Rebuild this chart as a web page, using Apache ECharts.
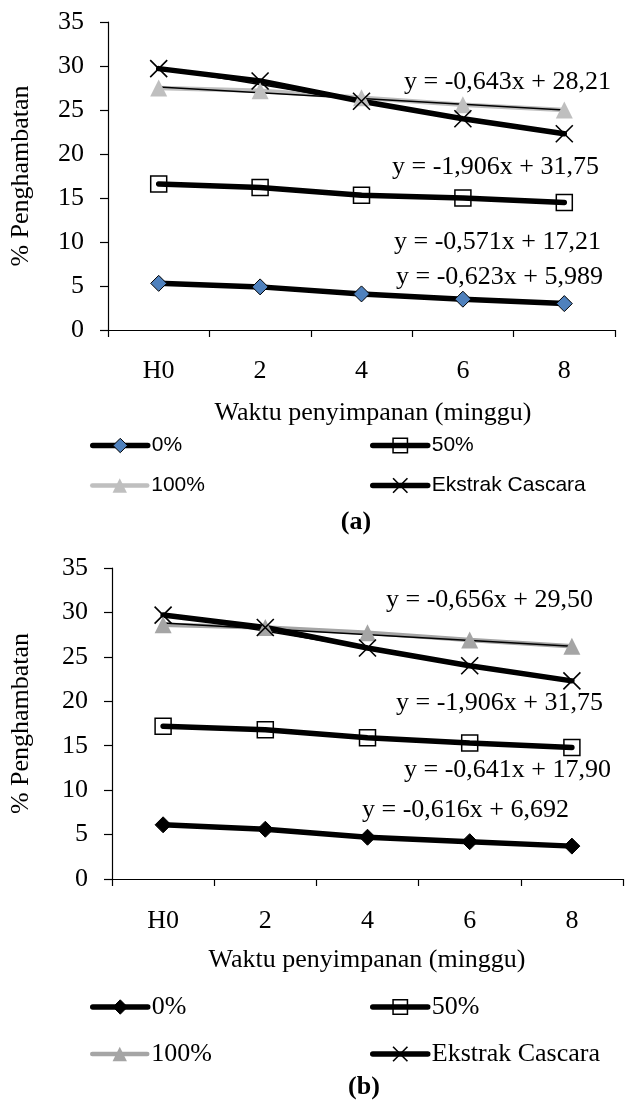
<!DOCTYPE html>
<html>
<head>
<meta charset="utf-8">
<script src="https://cdn.jsdelivr.net/npm/echarts@6/dist/echarts.min.js"></script>
<style>
  html, body { margin: 0; padding: 0; background: #fff; }
  #myChart { width: 630px; height: 1104px; }
</style>
</head>
<body>
<div id="myChart"></div>
<script>
// kategori sumbu x
const categories = ['H0', '2', '4', '6', '8'];
const seriesNames = ['0%', '50%', '100%', 'Ekstrak Cascara'];

// grafik (a)
const a0 = [5.3, 4.9, 4.1, 3.5, 3.0];
const a50 = [16.6, 16.2, 15.3, 15.0, 14.5];
const a100 = [27.5, 27.2, 26.4, 25.6, 25.0];
const aEks = [29.7, 28.3, 26.0, 24.0, 22.3];
// garis tren: nilai di H0 dan di 8
const a0Trend = [5.4, 2.9];
const a50Trend = [16.6, 14.4];
const a100Trend = [27.6, 25.0];
const aEksTrend = [29.8, 22.2];
const aEquations = ['y = -0,643x + 28,21', 'y = -1,906x + 31,75', 'y = -0,571x + 17,21', 'y = -0,623x + 5,989'];

// grafik (b)
const b0 = [6.1, 5.6, 4.7, 4.2, 3.7];
const b50 = [17.2, 16.8, 15.9, 15.3, 14.8];
const b100 = [28.6, 28.3, 27.7, 26.9, 26.2];
const bEks = [29.7, 28.3, 26.0, 24.0, 22.3];
const b0Trend = [6.1, 3.6];
const b50Trend = [17.3, 14.7];
const b100Trend = [28.8, 26.2];
const bEksTrend = [29.8, 22.2];
const bEquations = ['y = -0,656x + 29,50', 'y = -1,906x + 31,75', 'y = -0,641x + 17,90', 'y = -0,616x + 6,692'];

const serif = '"Liberation Serif", "Times New Roman", serif';
const sans = '"Liberation Sans", Arial, sans-serif';
const crossPath = 'path://M0,0L10,10M10,0L0,10';

function styles(diamondColor, gray) {
  return [
    { symbol: 'diamond', size: 16, item: { color: diamondColor, borderColor: '#000', borderWidth: 1 }, line: { color: '#000', width: 5.5, cap: 'round' } },
    { symbol: 'rect', size: 16, item: { color: 'rgba(255,255,255,0)', borderColor: '#000', borderWidth: 1.5 }, line: { color: '#000', width: 5.5, cap: 'round' } },
    { symbol: 'triangle', size: 17, item: { color: gray }, line: { color: gray, width: 4.5, cap: 'round' } },
    { symbol: crossPath, size: 17, item: { color: 'rgba(0,0,0,0)', borderColor: '#000', borderWidth: 1.6 }, line: { color: '#000', width: 5.5, cap: 'round' } }
  ];
}

function panelSeries(idx, values, trends, st) {
  const out = [];
  values.forEach((v, i) => {
    out.push({
      name: seriesNames[i],
      type: 'line',
      xAxisIndex: idx,
      yAxisIndex: idx,
      data: v,
      symbol: st[i].symbol,
      symbolSize: st[i].size,
      itemStyle: st[i].item,
      lineStyle: st[i].line,
      animation: false
    });
  });
  trends.forEach((t) => {
    out.push({
      type: 'line',
      xAxisIndex: idx,
      yAxisIndex: idx,
      data: [[0, t[0]], [4, t[1]]],
      symbol: 'none',
      silent: true,
      lineStyle: { color: '#000', width: 1.5 },
      z: 3,
      animation: false
    });
  });
  return out;
}

function legendItem(name, left, cy, st, font, size) {
  return {
    data: [name],
    left: left,
    top: cy - 9,
    padding: 0,
    itemWidth: 55,
    itemHeight: 18,
    selectedMode: false,
    itemStyle: st.item,
    lineStyle: st.line,
    textStyle: { fontFamily: font, fontSize: size, color: '#000', padding: [0, 0, 0, -1] }
  };
}

function xAxisDef(idx, margin) {
  return {
    type: 'category',
    gridIndex: idx,
    data: categories,
    boundaryGap: true,
    axisLine: { lineStyle: { color: '#000', width: 1.2 } },
    axisTick: { show: true, length: 7, lineStyle: { color: '#000', width: 1.2 } },
    axisLabel: { margin: margin, fontFamily: serif, fontSize: 26, color: '#000' }
  };
}

function yAxisDef(idx, gap) {
  return {
    type: 'value',
    gridIndex: idx,
    min: 0,
    max: 35,
    interval: 5,
    name: '% Penghambatan',
    nameLocation: 'middle',
    nameGap: gap,
    nameTextStyle: { fontFamily: serif, fontSize: 26, color: '#000' },
    splitLine: { show: false },
    axisLine: { show: true, lineStyle: { color: '#000', width: 1.2 } },
    axisTick: { show: true, length: 8, lineStyle: { color: '#000', width: 1.2 } },
    axisLabel: { margin: 24, fontFamily: serif, fontSize: 26, color: '#000' }
  };
}

function txt(text, x, y, opts) {
  return {
    type: 'text',
    x: x,
    y: y,
    silent: true,
    style: Object.assign({
      text: text,
      fontFamily: serif,
      fontSize: 26,
      fill: '#000',
      textAlign: 'left',
      textVerticalAlign: 'middle'
    }, opts || {})
  };
}

const stA = styles('#4f81bd', '#bfbfbf');
const stB = styles('#000', '#a5a5a5');

let myChart = echarts.init(document.getElementById('myChart'), null, { renderer: 'canvas' });
myChart.setOption({
  animation: false,
  grid: [
    { left: 100, top: 22, width: 515, height: 308 },
    { left: 104, top: 568, width: 519, height: 311 }
  ],
  xAxis: [xAxisDef(0, 28), xAxisDef(1, 29)],
  yAxis: [yAxisDef(0, 74), yAxisDef(1, 78)],
  legend: [
    legendItem('0%', 90, 444, stA[0], sans, 21),
    legendItem('50%', 370, 444, stA[1], sans, 21),
    legendItem('100%', 90, 484, stA[2], sans, 21),
    legendItem('Ekstrak Cascara', 370, 484, stA[3], sans, 21),
    legendItem('0%', 90, 1003, stB[0], serif, 26),
    legendItem('50%', 370, 1003, stB[1], serif, 26),
    legendItem('100%', 90, 1050, stB[2], serif, 26),
    legendItem('Ekstrak Cascara', 370, 1050, stB[3], serif, 26)
  ],
  graphic: [
    txt(aEquations[0], 404, 82),
    txt(aEquations[1], 392, 167),
    txt(aEquations[2], 394, 242),
    txt(aEquations[3], 396, 277),
    txt('Waktu penyimpanan (minggu)', 373, 413, { textAlign: 'center' }),
    txt('(a)', 356, 522, { textAlign: 'center', fontWeight: 'bold' }),
    txt(bEquations[0], 386, 600),
    txt(bEquations[1], 396, 703),
    txt(bEquations[2], 404, 770),
    txt(bEquations[3], 362, 810),
    txt('Waktu penyimpanan (minggu)', 367, 960, { textAlign: 'center' }),
    txt('(b)', 364, 1087, { textAlign: 'center', fontWeight: 'bold' })
  ],
  series: [].concat(
    panelSeries(0, [a0, a50, a100, aEks], [a0Trend, a50Trend, a100Trend, aEksTrend], stA),
    panelSeries(1, [b0, b50, b100, bEks], [b0Trend, b50Trend, b100Trend, bEksTrend], stB)
  )
});
window.onresize = function () {
  myChart.resize();
};
</script>
</body>
</html>
